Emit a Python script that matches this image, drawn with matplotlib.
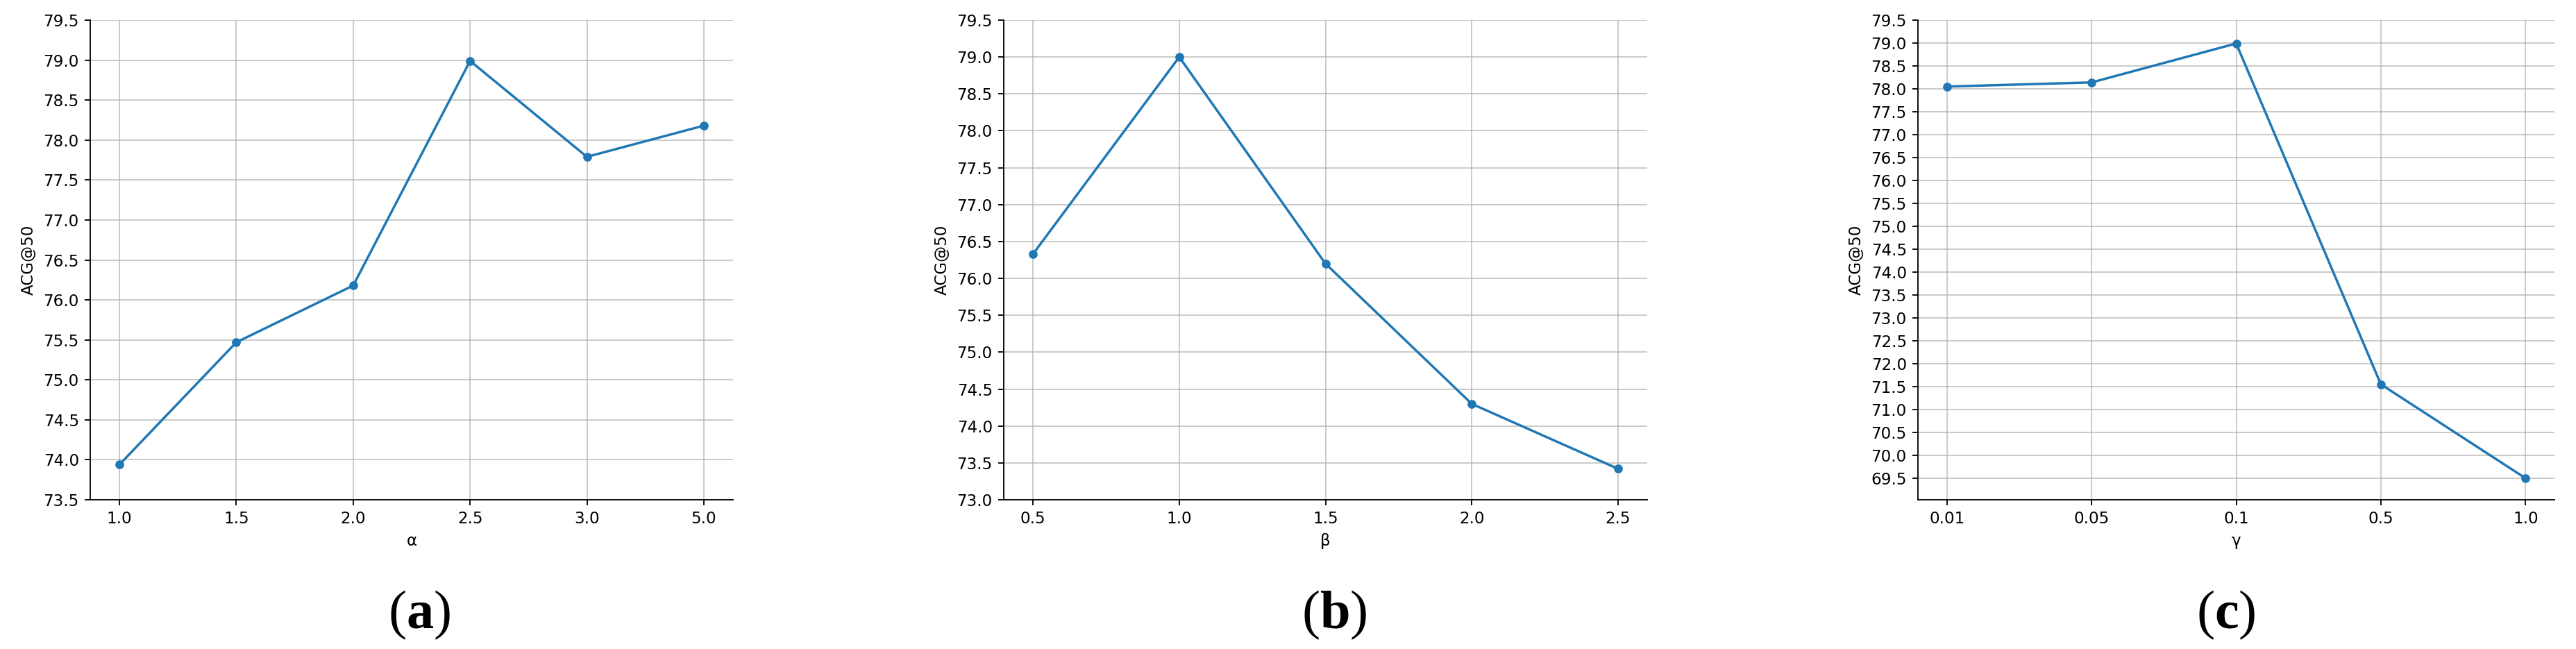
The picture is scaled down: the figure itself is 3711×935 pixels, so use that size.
import numpy as np
import matplotlib
matplotlib.use("Agg")
import matplotlib.pyplot as plt
from matplotlib.ticker import MultipleLocator

plt.rcParams['mathtext.fontset'] = 'custom'
plt.rcParams['mathtext.rm'] = 'Liberation Serif'
plt.rcParams['mathtext.bf'] = 'Liberation Serif:bold'

# data
alpha_labels = ["1.0", "1.5", "2.0", "2.5", "3.0", "5.0"]
alpha_acg = [73.94, 75.47, 76.18, 78.99, 77.79, 78.18]

beta_vals = [0.5, 1.0, 1.5, 2.0, 2.5]
beta_acg = [76.33, 79.0, 76.2, 74.3, 73.42]

gamma_labels = ["0.01", "0.05", "0.1", "0.5", "1.0"]
gamma_acg = [78.05, 78.14, 78.99, 71.55, 69.5]

W, H = 3711, 935
DPI = 166
fig = plt.figure(figsize=(W / DPI, H / DPI), dpi=DPI)


def make_ax(x0, x1, y0=29, y1=720):
    return fig.add_axes([x0 / W, (H - y1) / H, (x1 - x0) / W, (y1 - y0) / H])


def style(ax, xlabel):
    ax.spines['top'].set_visible(False)
    ax.spines['right'].set_visible(False)
    ax.grid(True, color='#b0b0b0', alpha=0.7, linewidth=0.8)
    ax.set_axisbelow(True)
    ax.yaxis.set_major_locator(MultipleLocator(0.5))
    ax.set_xlabel(xlabel)
    ax.set_ylabel("ACG@50")


ax1 = make_ax(130, 1056)
ax1.plot(alpha_labels, alpha_acg, marker='o', markersize=4.5)
ax1.set_ylim(73.5, 79.5)
style(ax1, "α")

ax2 = make_ax(1446, 2373)
ax2.plot(beta_vals, beta_acg, marker='o', markersize=4.5)
ax2.set_xticks(beta_vals)
ax2.set_ylim(73.0, 79.5)
style(ax2, "β")

ax3 = make_ax(2763, 3680)
ax3.plot(gamma_labels, gamma_acg, marker='o', markersize=4.5)
ax3.set_ylim(69.03, 79.5)
style(ax3, "γ")

for cx, letter in [(604, "a"), (1922, "b"), (3207, "c")]:
    fig.text(cx / W, 1 - 886 / H, "(" + r"$\mathbf{" + letter + "}$" + ")",
             family="Liberation Serif", fontsize=34, ha='center', va='center')

fig.savefig("out.png", dpi=DPI)
